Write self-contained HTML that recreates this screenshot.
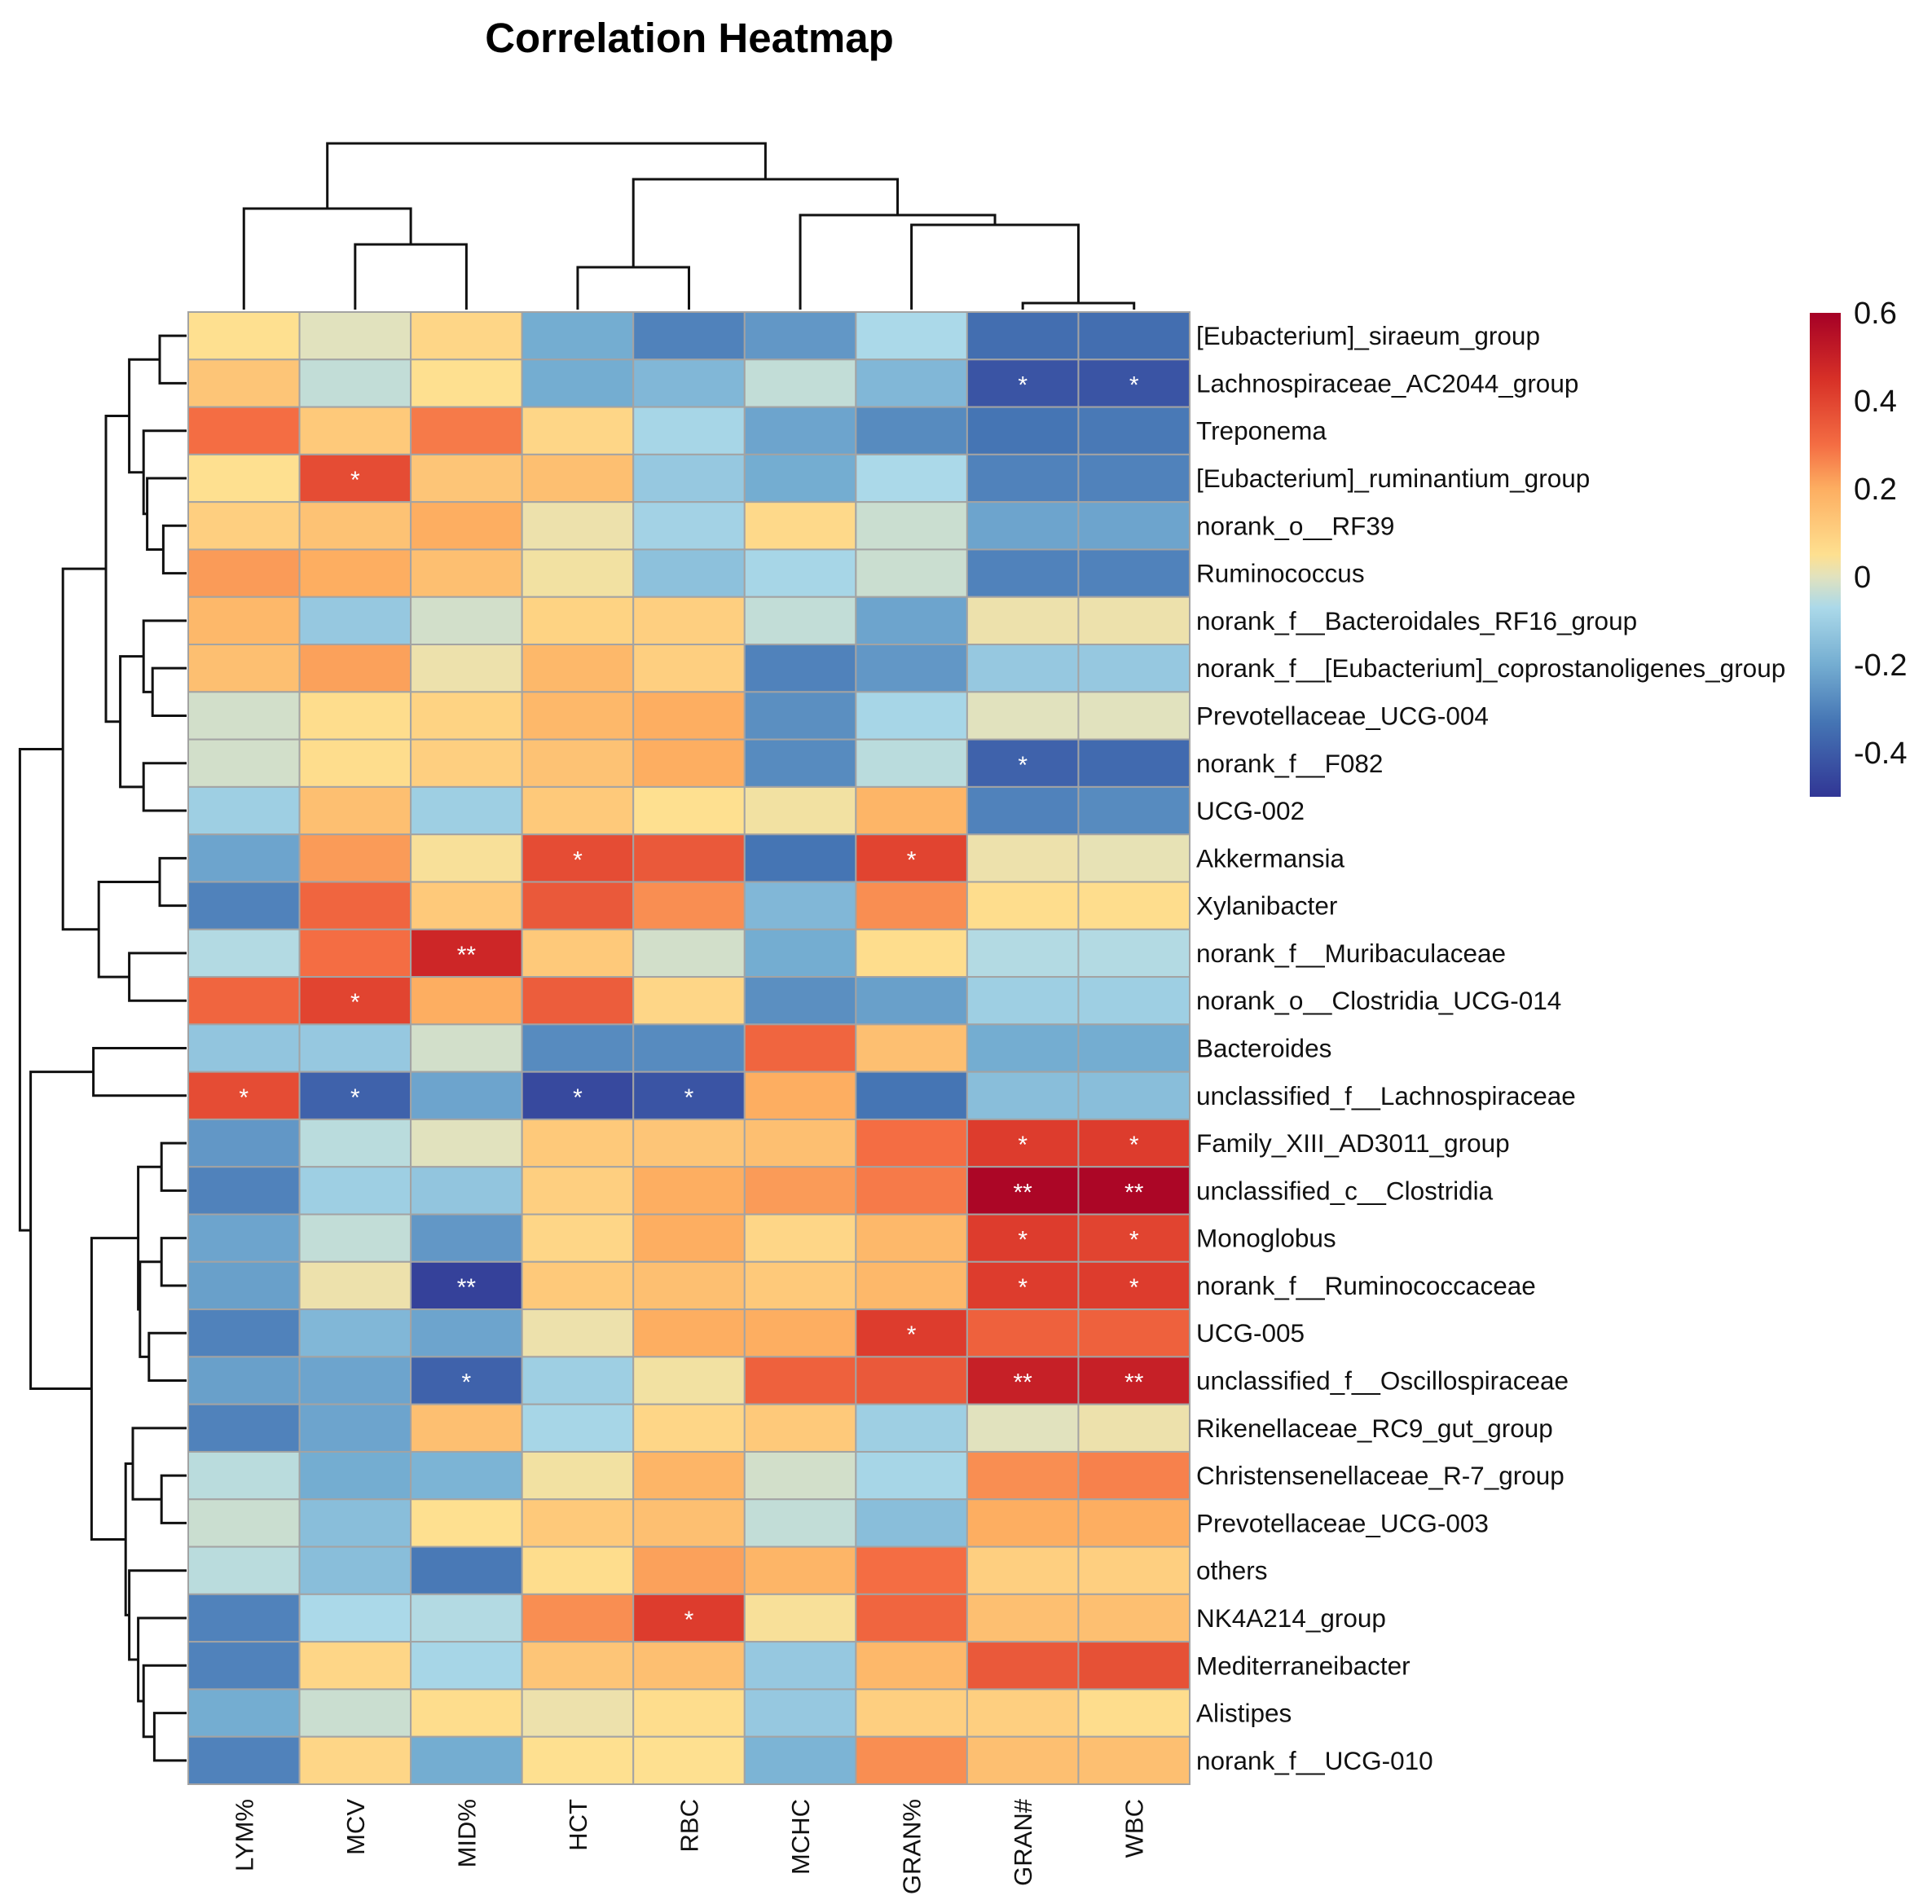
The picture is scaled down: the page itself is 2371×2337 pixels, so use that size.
<!DOCTYPE html>
<html><head><meta charset="utf-8"><style>
html,body{margin:0;padding:0;background:#fff;}
svg{display:block;font-family:"Liberation Sans",Arial,sans-serif;}
</style></head><body>
<svg id="chart" width="2371" height="2337" viewBox="0 0 2371 2337" xmlns="http://www.w3.org/2000/svg">
<text x="846" y="64" text-anchor="middle" font-size="51" font-weight="bold">Correlation Heatmap</text>
<g id="cells"></g><g id="rowlab"></g><g id="collab"></g><g id="dend" stroke="#111" stroke-width="3" fill="none"></g><g id="cbar"></g>
</svg>
<script>
const columns=["LYM%","MCV","MID%","HCT","RBC","MCHC","GRAN%","GRAN#","WBC"];
const rows=["[Eubacterium]_siraeum_group","Lachnospiraceae_AC2044_group","Treponema","[Eubacterium]_ruminantium_group","norank_o__RF39","Ruminococcus","norank_f__Bacteroidales_RF16_group","norank_f__[Eubacterium]_coprostanoligenes_group","Prevotellaceae_UCG-004","norank_f__F082","UCG-002","Akkermansia","Xylanibacter","norank_f__Muribaculaceae","norank_o__Clostridia_UCG-014","Bacteroides","unclassified_f__Lachnospiraceae","Family_XIII_AD3011_group","unclassified_c__Clostridia","Monoglobus","norank_f__Ruminococcaceae","UCG-005","unclassified_f__Oscillospiraceae","Rikenellaceae_RC9_gut_group","Christensenellaceae_R-7_group","Prevotellaceae_UCG-003","others","NK4A214_group","Mediterraneibacter","Alistipes","norank_f__UCG-010"];
const values=[
[0.05,0.0,0.08,-0.2,-0.3,-0.25,-0.07,-0.35,-0.35],
[0.13,-0.04,0.05,-0.2,-0.17,-0.04,-0.17,-0.42,-0.42],
[0.3,0.12,0.28,0.08,-0.08,-0.22,-0.28,-0.33,-0.32],
[0.05,0.38,0.13,0.15,-0.12,-0.2,-0.07,-0.3,-0.3],
[0.1,0.14,0.2,0.02,-0.09,0.07,-0.03,-0.22,-0.22],
[0.23,0.2,0.15,0.03,-0.14,-0.08,-0.03,-0.3,-0.3],
[0.17,-0.12,-0.02,0.09,0.1,-0.04,-0.22,0.02,0.02],
[0.15,0.22,0.02,0.17,0.1,-0.3,-0.25,-0.12,-0.12],
[-0.02,0.06,0.09,0.17,0.2,-0.27,-0.08,0.0,0.0],
[-0.02,0.06,0.1,0.14,0.2,-0.28,-0.05,-0.38,-0.36],
[-0.1,0.15,-0.1,0.12,0.05,0.03,0.18,-0.3,-0.28],
[-0.22,0.23,0.04,0.38,0.35,-0.33,0.4,0.02,0.01],
[-0.3,0.32,0.12,0.35,0.25,-0.17,0.25,0.06,0.06],
[-0.06,0.3,0.48,0.12,-0.02,-0.2,0.06,-0.06,-0.06],
[0.32,0.4,0.2,0.34,0.08,-0.27,-0.23,-0.1,-0.1],
[-0.13,-0.12,-0.02,-0.28,-0.28,0.32,0.15,-0.2,-0.2],
[0.38,-0.38,-0.22,-0.45,-0.42,0.2,-0.33,-0.15,-0.15],
[-0.25,-0.05,0.0,0.12,0.13,0.15,0.3,0.42,0.42],
[-0.3,-0.1,-0.13,0.1,0.2,0.23,0.28,0.58,0.58],
[-0.22,-0.04,-0.25,0.08,0.2,0.08,0.17,0.42,0.4],
[-0.23,0.02,-0.47,0.12,0.15,0.12,0.17,0.42,0.42],
[-0.3,-0.17,-0.22,0.02,0.2,0.2,0.42,0.33,0.33],
[-0.23,-0.22,-0.38,-0.1,0.03,0.33,0.35,0.5,0.5],
[-0.3,-0.22,0.15,-0.08,0.08,0.12,-0.1,0.0,0.02],
[-0.05,-0.2,-0.18,0.03,0.18,-0.02,-0.08,0.25,0.27],
[-0.03,-0.15,0.05,0.12,0.15,-0.04,-0.15,0.2,0.2],
[-0.05,-0.15,-0.32,0.06,0.22,0.18,0.3,0.1,0.1],
[-0.3,-0.07,-0.06,0.25,0.42,0.04,0.32,0.15,0.15],
[-0.3,0.08,-0.08,0.13,0.15,-0.12,0.17,0.35,0.37],
[-0.2,-0.03,0.06,0.02,0.06,-0.12,0.1,0.1,0.06],
[-0.3,0.08,-0.2,0.05,0.05,-0.18,0.25,0.15,0.15]];
const stars=[
["","","","","","","","",""],["","","","","","","","*","*"],["","","","","","","","",""],["","*","","","","","","",""],
["","","","","","","","",""],["","","","","","","","",""],["","","","","","","","",""],["","","","","","","","",""],
["","","","","","","","",""],["","","","","","","","*",""],["","","","","","","","",""],["","","","*","","","*","",""],
["","","","","","","","",""],["","","**","","","","","",""],["","*","","","","","","",""],["","","","","","","","",""],
["*","*","","*","*","","","",""],["","","","","","","","*","*"],["","","","","","","","**","**"],["","","","","","","","*","*"],
["","","**","","","","","*","*"],["","","","","","","*","",""],["","","*","","","","","**","**"],["","","","","","","","",""],
["","","","","","","","",""],["","","","","","","","",""],["","","","","","","","",""],["","","","","*","","","",""],
["","","","","","","","",""],["","","","","","","","",""],["","","","","","","","",""]];
const colorTicks=[0.6,0.4,0.2,0,-0.2,-0.4];
const colorTickLabels=["0.6","0.4","0.2","0","-0.2","-0.4"];
const colMerges=[[7,8,0.02],[6,"m0",0.26],[5,"m1",0.29],[3,4,0.13],["m3","m2",0.40],[1,2,0.20],[0,"m5",0.31],["m6","m4",0.51]];
const rowMerges=[[0,1,0.15],[4,5,0.13],[3,"m1",0.22],[2,"m2",0.24],["m0","m3",0.32],[7,8,0.19],[6,"m5",0.24],[9,10,0.24],["m6","m7",0.37],["m4","m8",0.45],
[11,12,0.15],[13,14,0.32],["m10","m11",0.49],["m9","m12",0.69],[15,16,0.52],
[17,18,0.14],[19,20,0.14],[21,22,0.21],["m16","m17",0.26],["m15","m18",0.27],
[24,25,0.14],[23,"m20",0.30],[29,30,0.18],[28,"m22",0.24],[27,"m23",0.27],[26,"m24",0.32],["m21","m25",0.34],["m19","m26",0.53],["m14","m27",0.87],["m13","m28",0.93]];

const NS="http://www.w3.org/2000/svg";
const X0=231,X1=1460,Y0=383,Y1=2190;
const cw=(X1-X0)/columns.length, rh=(Y1-Y0)/rows.length;
const xC=i=>X0+cw*(i+0.5), yC=j=>Y0+rh*(j+0.5);
const stops=[[-0.5,[49,54,149]],[-0.33,[69,117,180]],[-0.2,[116,173,209]],[-0.07,[171,217,233]],[0,[225,226,190]],[0.05,[254,224,144]],[0.2,[253,174,97]],[0.3,[244,109,67]],[0.45,[215,48,39]],[0.6,[165,0,38]]];
function color(v){v=Math.max(-0.5,Math.min(0.6,v));for(let k=0;k<stops.length-1;k++){const a=stops[k],b=stops[k+1];if(v<=b[0]){const t=(v-a[0])/(b[0]-a[0]);const c=a[1].map((q,i)=>Math.round(q+(b[1][i]-q)*t));return `rgb(${c})`;}}return "rgb(165,0,38)";}
function mk(tag,attrs,parent){const e=document.createElementNS(NS,tag);for(const k in attrs)e.setAttribute(k,attrs[k]);parent.appendChild(e);return e;}
const gC=document.getElementById('cells');
values.forEach((row,j)=>row.forEach((v,i)=>{
 const r=mk('rect',{x:X0+cw*i,y:Y0+rh*j,width:cw,height:rh,fill:color(v),stroke:'#a3a3a3','stroke-width':2},gC);
 
 
 if(stars[j][i]){const t=mk('text',{x:xC(i),y:yC(j)+12,'text-anchor':'middle','font-size':30,fill:'#fff'},gC);t.textContent=stars[j][i];
 
 }
}));
const gR=document.getElementById('rowlab');
rows.forEach((n,j)=>{const t=mk('text',{x:1468,y:yC(j)+11,'font-size':31.5,fill:'#111'},gR);t.textContent=n;
 
 });
const gL=document.getElementById('collab');
columns.forEach((n,i)=>{const t=mk('text',{x:0,y:0,'font-size':31,fill:'#111','text-anchor':'end',transform:`translate(${xC(i)+11},2208) rotate(-90)`},gL);t.textContent=n;
 
 });
const gD=document.getElementById('dend');
function drawDend(merges,leafPos,hToCoord,vertical,name){
 const pos=[],hh=[];
 const get=k=>typeof k==="string"?{p:pos[+k.slice(1)],h:hh[+k.slice(1)]}:{p:leafPos(k),h:0};
 merges.forEach((m,idx)=>{const a=get(m[0]),b=get(m[1]);const c=hToCoord(m[2]);
  let d;
  if(vertical){d=`M${a.p},${hToCoord(a.h)} V${c} H${b.p} V${hToCoord(b.h)}`;}
  else{d=`M${hToCoord(a.h)},${a.p} H${c} V${b.p} H${hToCoord(b.h)}`;}
  const p=mk('path',{d:d},gD);
  
  
  pos[idx]=(a.p+b.p)/2;hh[idx]=m[2];});
}
drawDend(colMerges,xC,h=>380-h*400,true,'column-dendrogram-branch');
drawDend(rowMerges,yC,h=>229-h*220,false,'row-dendrogram-branch');
const gB=document.getElementById('cbar');
const vY=v=>384+(0.6-v)*540;
const defs=mk('defs',{},gB);const lg=mk('linearGradient',{id:'cg',x1:0,y1:1,x2:0,y2:0},defs);
stops.forEach(s=>mk('stop',{offset:(s[0]+0.5)/1.1,'stop-color':`rgb(${s[1]})`},lg));
const cb=mk('rect',{x:2221,y:vY(0.6),width:38,height:vY(-0.5)-vY(0.6),fill:'url(#cg)'},gB);


colorTicks.forEach((v,k)=>{const t=mk('text',{x:2275,y:vY(v)+13,'font-size':38,fill:'#111'},gB);t.textContent=colorTickLabels[k];
 
 });
</script>
</body></html>
